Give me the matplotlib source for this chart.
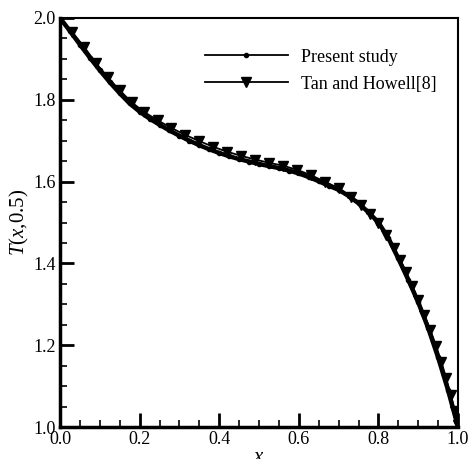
import matplotlib.pyplot as plt
from matplotlib.lines import Line2D
from matplotlib.ticker import MultipleLocator

# Present study, T(x, 0.5)
x_present = [0.000, 0.025, 0.050, 0.075, 0.100, 0.125, 0.150, 0.175, 0.200, 0.225,
             0.250, 0.275, 0.300, 0.325, 0.350, 0.375, 0.400, 0.425, 0.450, 0.475,
             0.500, 0.525, 0.550, 0.575, 0.600, 0.625, 0.650, 0.675, 0.700, 0.725,
             0.750, 0.775, 0.800, 0.825, 0.850, 0.875, 0.900, 0.925, 0.950, 0.975, 1.000]
t_present = [2.000, 1.968, 1.935, 1.903, 1.872, 1.843, 1.816, 1.791, 1.771, 1.754,
             1.739, 1.725, 1.712, 1.700, 1.689, 1.679, 1.670, 1.662, 1.655, 1.649,
             1.643, 1.638, 1.633, 1.627, 1.620, 1.611, 1.601, 1.590, 1.580, 1.565,
             1.547, 1.525, 1.500, 1.462, 1.412, 1.360, 1.305, 1.242, 1.170, 1.090, 1.000]

# Tan and Howell [8]
x_tan = [0.0, 0.03, 0.06, 0.09, 0.12, 0.15, 0.18, 0.21, 0.245, 0.28,
         0.315, 0.35, 0.385, 0.42, 0.455, 0.49, 0.525, 0.56, 0.595, 0.63,
         0.665, 0.70, 0.73, 0.755, 0.78, 0.80, 0.82, 0.84, 0.855, 0.87,
         0.885, 0.90, 0.915, 0.93, 0.945, 0.958, 0.97, 0.982, 0.992, 1.0]
t_tan = [2.000, 1.966, 1.930, 1.890, 1.855, 1.823, 1.794, 1.771, 1.750, 1.731,
         1.714, 1.699, 1.685, 1.673, 1.663, 1.654, 1.646, 1.639, 1.629, 1.616,
         1.600, 1.584, 1.563, 1.543, 1.521, 1.500, 1.470, 1.438, 1.408, 1.378,
         1.345, 1.310, 1.275, 1.238, 1.198, 1.160, 1.120, 1.078, 1.040, 1.005]

plt.rcParams['font.family'] = 'Liberation Serif'
plt.rcParams['mathtext.fontset'] = 'custom'
plt.rcParams['mathtext.it'] = 'Liberation Serif:italic'
plt.rcParams['mathtext.rm'] = 'Liberation Serif'

fig = plt.figure(figsize=(4.7, 4.59), dpi=100)
ax = fig.add_axes([0.1277, 0.0697, 0.8468, 0.8911])

ax.plot(x_present, t_present, color='black', lw=3.2, marker='o', ms=3, zorder=3)
ax.plot(x_tan, t_tan, color='black', lw=1.3, marker='v', ms=6.5, zorder=4)

ax.set_xlim(0, 1)
ax.set_ylim(1, 2)
ax.xaxis.set_major_locator(MultipleLocator(0.2))
ax.xaxis.set_minor_locator(MultipleLocator(0.05))
ax.yaxis.set_major_locator(MultipleLocator(0.2))
ax.yaxis.set_minor_locator(MultipleLocator(0.05))
ax.xaxis.set_major_formatter(lambda v, p: f'{v:.1f}')
ax.yaxis.set_major_formatter(lambda v, p: f'{v:.1f}')
ax.tick_params(which='both', direction='in', labelsize=13, top=False, right=False, pad=3)
ax.tick_params(which='major', length=10, width=2)
ax.tick_params(which='minor', length=5, width=1.2)

ax.spines['left'].set_linewidth(2.5)
ax.spines['bottom'].set_linewidth(2.5)
ax.spines['top'].set_linewidth(1.5)
ax.spines['right'].set_linewidth(1.5)

ax.set_ylabel('$T$($x$,0.5)', fontsize=15, labelpad=2)
ax.set_xlabel('$x$', fontsize=15, labelpad=0)

handles = [Line2D([], [], color='black', lw=1.3, marker='o', ms=3),
           Line2D([], [], color='black', lw=1.3, marker='v', ms=6.5)]
ax.legend(handles, ['Present study', 'Tan and Howell[8]'], loc='upper left',
          bbox_to_anchor=(0.364, 0.925), frameon=False, fontsize=13,
          handlelength=4.6, handletextpad=0.75, labelspacing=0.55,
          borderpad=0, borderaxespad=0)

fig.savefig('out.png', dpi=100)
